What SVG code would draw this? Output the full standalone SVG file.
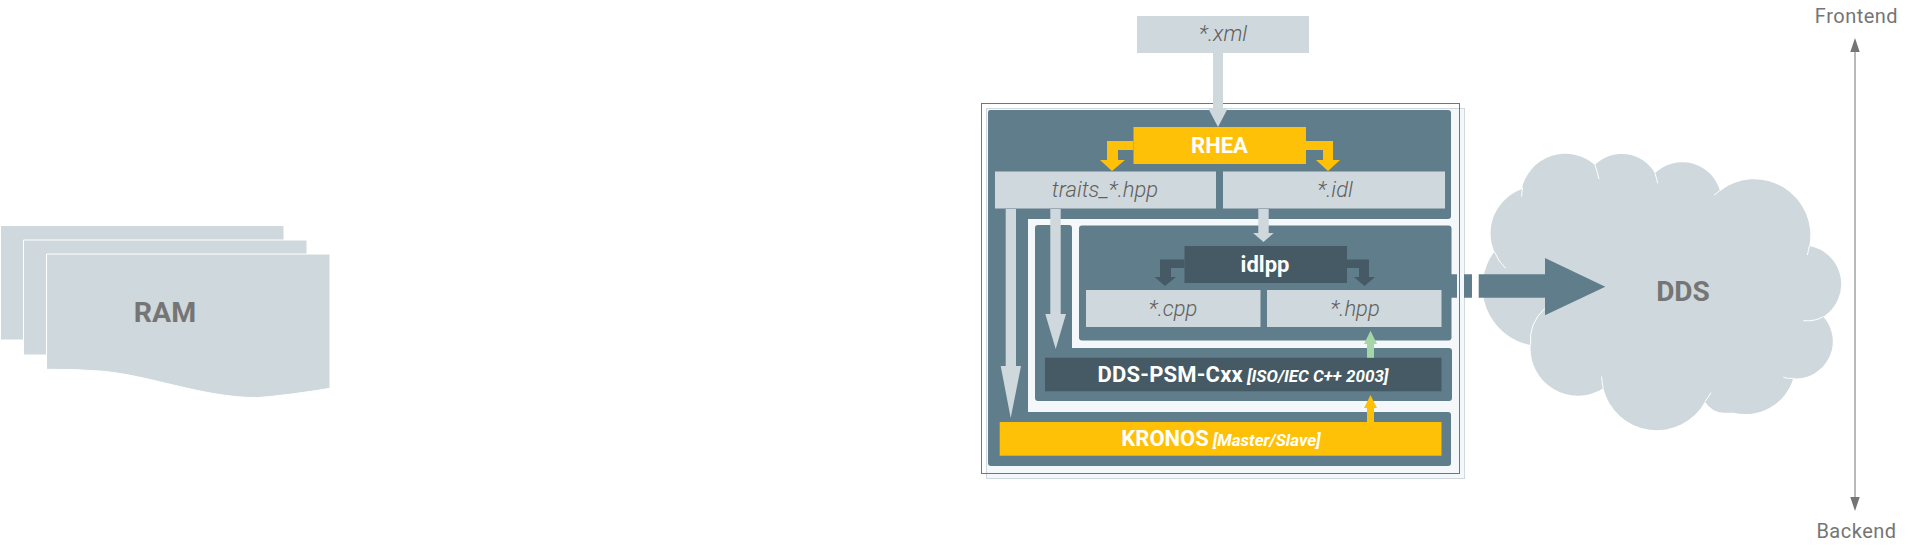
<svg xmlns="http://www.w3.org/2000/svg" width="1920" height="552" viewBox="0 0 1920 552">
<style>
text{font-family:Roboto,"Liberation Sans",sans-serif;text-anchor:middle}
.file{font-size:22px;font-style:italic;font-weight:300;fill:#5f5f5f}
.big{font-size:28px;font-weight:700;fill:#757575}
.t{font-size:22px;font-weight:700;fill:#fff}
.s{font-size:17px;font-weight:700;font-style:italic;fill:#fff}
.edge{font-size:20px;font-weight:400;fill:#757575;letter-spacing:.5px}
.lt{fill:#cfd8dc}.pan{fill:#607d8b}.or{fill:#ffc107}.dk{fill:#455a64}.gr{fill:#a5d6a7}
.sheet{fill:#cfd8dc;stroke:#fff;stroke-width:1}
.hl{fill:none;stroke:#fff;stroke-width:3}
</style>
<g id="ram">
<path class="sheet" d="M0.500 225.500H284V340H0.500Z"/>
<path class="sheet" d="M23.500 240H307V355H23.500Z"/>
<path class="sheet" d="M46.500 254H330V388.300Q290 395 256.700 397.700C200 397 150 375 100 371Q75 369 46.500 369.300Z"/>
<text class="big" x="165" y="322" style="font-size:28.500px">RAM</text>
</g>
<g id="dds">
<g transform="translate(1440 130) scale(.3333)">
<path class="lt" d="M245 178A134 134 0 0 1 465 105A114 114 0 0 1 645 130A117 117 0 0 1 840 183A168 168 0 0 1 1108 348A116 116 0 0 1 1150 560A111 111 0 0 1 1060 745A150 150 0 0 1 880 848L850 848Q815 846 795 815A165 165 0 0 1 490 775A142 142 0 0 1 272 645A177 177 0 0 1 163 365A140 140 0 0 1 245 178Z"/>
<path class="hl" d="M245 200Q245 188 248 172M465 105Q472 125 477 147M645 130Q650 145 653 160M855 170Q838 182 822 196M1108 348Q1106 362 1102 375M1150 560Q1125 575 1090 572M1060 745Q1045 747 1030 742M813 788Q805 802 795 815M485 740Q486 758 490 775M315 535Q265 580 272 645M197 415Q175 395 163 365"/>
</g>
<text class="big" x="1683" y="301">DDS</text>
</g>
<g id="frame">
<rect x="986.500" y="108.500" width="478" height="370" fill="#f5f8fa" stroke="#cfd8dc" stroke-width="1"/>
<rect x="981.500" y="103.500" width="478" height="370" fill="none" stroke="#757575" stroke-width="1"/>
</g>
<g id="panels">
<path class="pan" d="M990 110H1448Q1451 110 1451 113V216Q1451 219 1448 219H1028V412H1448Q1451 412 1451 415V463Q1451 466 1448 466H991Q988 466 988 463V113Q988 110 990 110Z"/>
<path class="pan" d="M1038 225H1069Q1072 225 1072 228V348H1449Q1452 348 1452 351V398Q1452 401 1449 401H1038Q1035 401 1035 398V228Q1035 225 1038 225Z"/>
<rect class="pan" x="1079" y="225.500" width="372.500" height="115" rx="3"/>
</g>
<g id="xml"><rect class="lt" x="1137" y="16" width="172" height="37"/><text class="file" x="1223" y="41">*.xml</text></g>
<g id="rhea"><rect class="or" x="1133.500" y="127" width="172.500" height="37"/><text class="t" x="1219.500" y="153">RHEA</text></g>
<g id="traits"><rect class="lt" x="995" y="171.500" width="221" height="37"/><text class="file" x="1105" y="197">traits_*.hpp</text></g>
<g id="idl"><rect class="lt" x="1223" y="171.500" width="222" height="37"/><text class="file" x="1335" y="197">*.idl</text></g>
<g id="idlpp"><rect class="dk" x="1184.500" y="246" width="162.500" height="37"/><text class="t" x="1265" y="272">idlpp</text></g>
<g id="cpp"><rect class="lt" x="1086" y="290" width="174.500" height="37"/><text class="file" x="1173" y="316">*.cpp</text></g>
<g id="hpp"><rect class="lt" x="1267" y="290" width="174.500" height="37"/><text class="file" x="1355" y="316">*.hpp</text></g>
<g id="psm"><rect class="dk" x="1045" y="357.700" width="396.500" height="33.600"/><text x="1243" y="382"><tspan class="t" style="letter-spacing:.2px">DDS-PSM-Cxx</tspan> <tspan class="s">[ISO/IEC C++ 2003]</tspan></text></g>
<g id="kronos"><rect class="or" x="999.700" y="422" width="441.800" height="33.700"/><text x="1221" y="446"><tspan class="t">KRONOS</tspan> <tspan class="s">[Master/Slave]</tspan></text></g>
<g id="connectors">
<path class="lt" d="M1213 53H1223V108H1228L1218 127L1208 108H1213Z"/>
<path class="or" d="M1133.500 141H1107V160H1100L1112 171L1125 160H1118V150H1133.500Z"/>
<path class="or" d="M1306 141H1333V160H1340L1328 171L1316 160H1323V150H1306Z"/>
<path class="lt" d="M1005.700 209H1016V366H1021L1010.700 418L1000.700 366H1005.700Z"/>
<path class="lt" d="M1050.300 209H1060.700V314H1066L1055.700 349L1045.300 314H1050.300Z"/>
<path class="lt" d="M1258.300 209H1268.700V233H1273.700L1263.500 242L1253 233H1258.300Z"/>
<path class="dk" d="M1184.500 259.500H1160V277H1154.500L1165 286L1176 277H1171V268H1184.500Z"/>
<path class="dk" d="M1347 259.500H1369V277H1375L1364.500 286L1354 277H1359V268H1347Z"/>
<path class="gr" d="M1367 357.700H1374V344H1377L1370.500 330.700L1364 344H1367Z"/>
<path class="or" d="M1367 422H1374V408H1377L1370.500 395L1364 408H1367Z"/>
<path class="pan" d="M1451 274.300H1457V297.700H1451ZM1464 274.300H1472V297.700H1464ZM1478.700 274.300H1545V258L1605.300 286.700L1545 315.300V297.700H1478.700Z"/>
<path d="M1855 50V498" fill="none" stroke="#757575" stroke-width="1"/>
<path fill="#757575" d="M1855 38L1859.700 52H1850.300ZM1855 511L1850.300 497H1859.700Z"/>
</g>
<g id="frontend"><text class="edge" x="1856.500" y="23">Frontend</text></g>
<g id="backend"><text class="edge" x="1856.500" y="538">Backend</text></g>
</svg>
